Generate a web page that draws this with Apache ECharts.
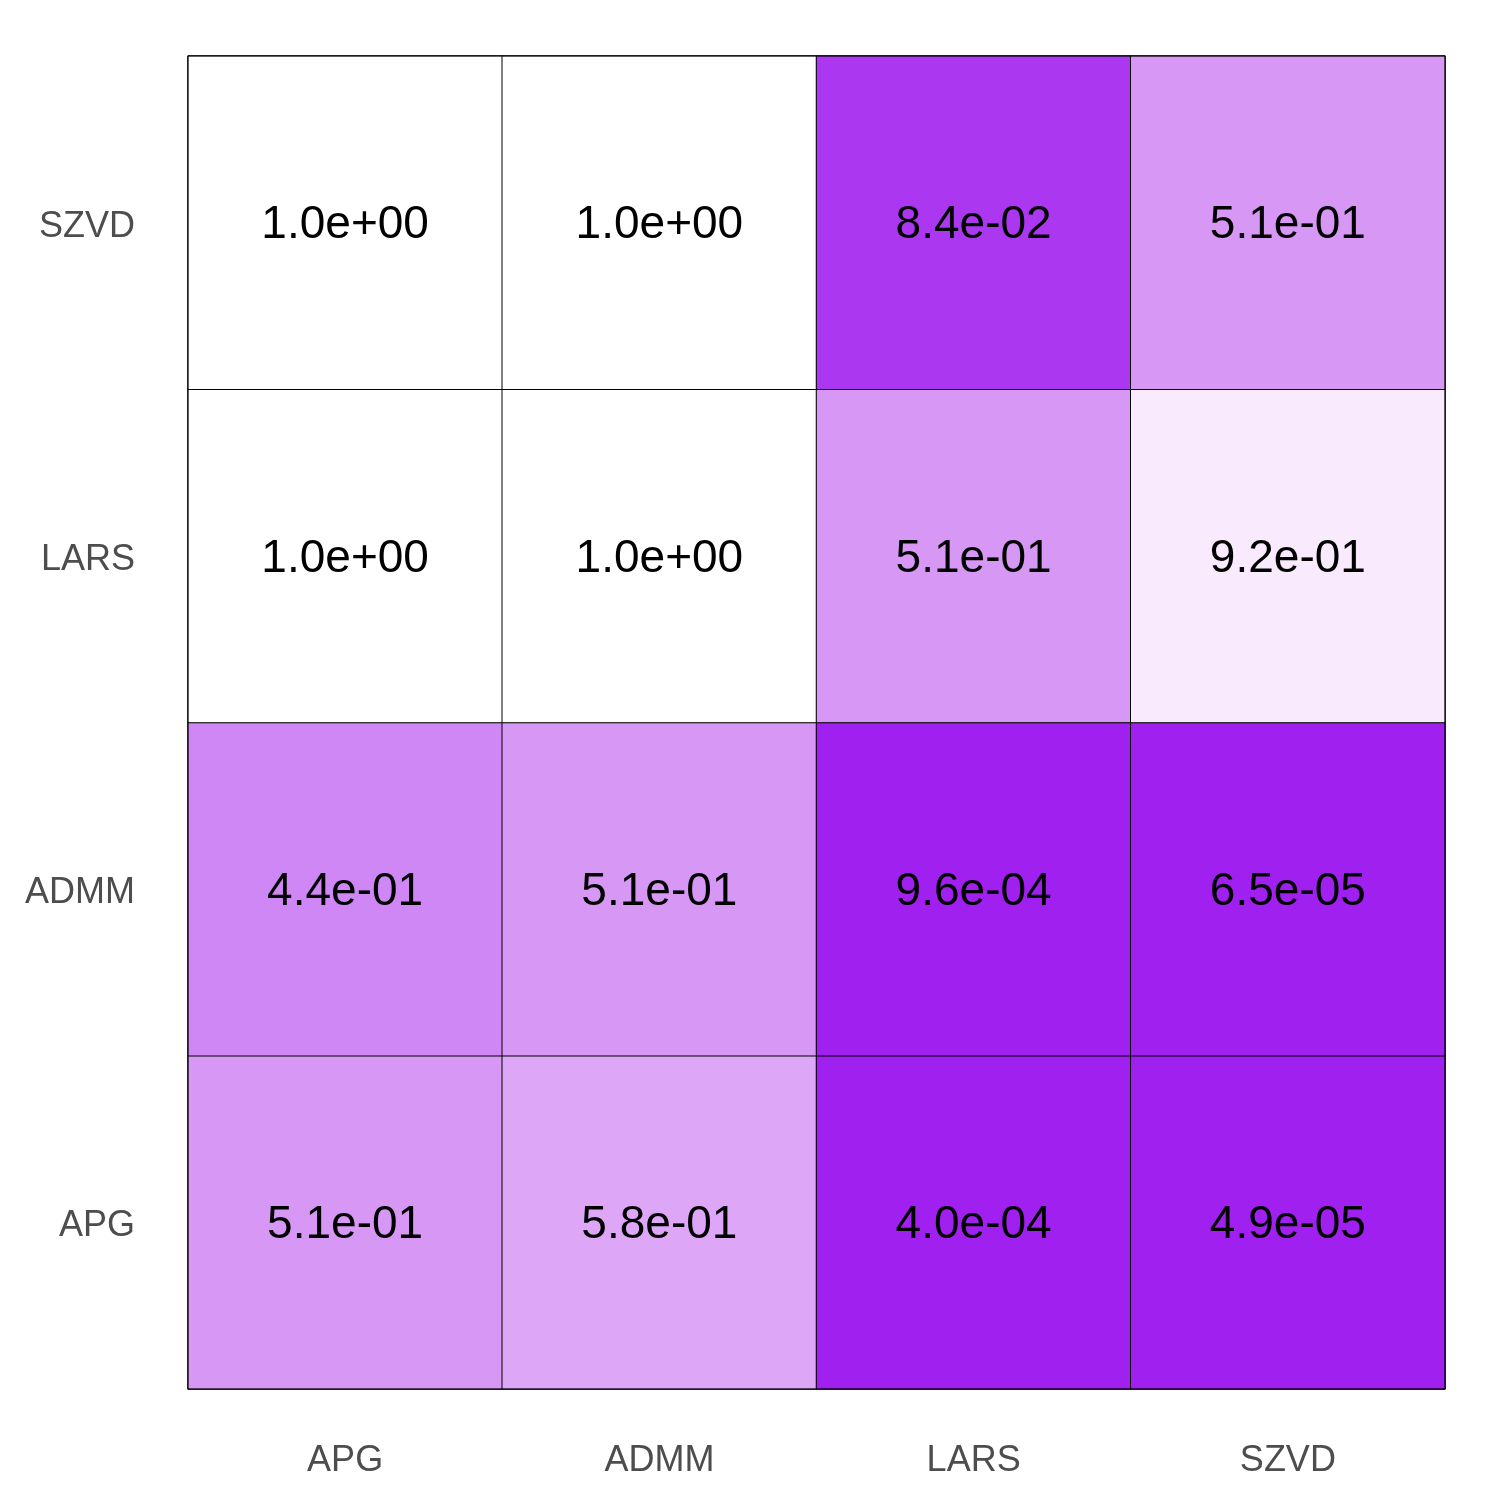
<!DOCTYPE html>
<html>
<head>
<meta charset="utf-8">
<script src="https://cdn.jsdelivr.net/npm/echarts@6/dist/echarts.min.js"></script>
<style>
html,body{margin:0;padding:0;background:#fff;}
#main{width:1500px;height:1500px;}
</style>
</head>
<body>
<div id="main"></div>
<script>
// methods on both axes (x left->right, y bottom->top)
var xMethods = ['APG', 'ADMM', 'LARS', 'SZVD'];
var yMethods = ['APG', 'ADMM', 'LARS', 'SZVD'];

// p-values, one row per y method
var rowAPG  = [5.1e-01, 5.8e-01, 4.0e-04, 4.9e-05];
var rowADMM = [4.4e-01, 5.1e-01, 9.6e-04, 6.5e-05];
var rowLARS = [1.0e+00, 1.0e+00, 5.1e-01, 9.2e-01];
var rowSZVD = [1.0e+00, 1.0e+00, 8.4e-02, 5.1e-01];
var rows = [rowAPG, rowADMM, rowLARS, rowSZVD];

var cells = [];
rows.forEach(function(r, yi) {
	r.forEach(function(v, xi) {
		cells.push([xi, yi, v]);
	});
});

// 1.0e+00 style, like R's format
function sci(v) {
	var s = v.toExponential(1);
	var parts = s.split('e');
	var sign = parts[1].charAt(0);
	var exp = parts[1].slice(1);
	if (exp.length < 2) exp = '0' + exp;
	return parts[0] + 'e' + sign + exp;
}

var chart = echarts.init(document.getElementById('main'));
chart.setOption({
	animation: false,
	backgroundColor: '#fff',
	grid: {left: 188, top: 56, width: 1257, height: 1333, show: true, borderColor: '#000', borderWidth: 1, z: 5},
	xAxis: {
		type: 'category',
		data: xMethods,
		axisLine: {show: false},
		axisTick: {show: false},
		splitLine: {show: false},
		axisLabel: {color: '#4D4D4D', fontSize: 36, fontFamily: 'Liberation Sans, Arial', margin: 54}
	},
	yAxis: {
		type: 'category',
		data: yMethods,
		axisLine: {show: false},
		axisTick: {show: false},
		splitLine: {show: false},
		axisLabel: {
			color: '#4D4D4D', fontSize: 36, fontFamily: 'Liberation Sans, Arial', margin: 53,
			formatter: function(v) { return '{a|' + v + '}'; },
			rich: {a: {color: '#4D4D4D', fontSize: 36, fontFamily: 'Liberation Sans, Arial', padding: [8, 0, 0, 0]}}
		}
	},
	visualMap: {
		show: false,
		type: 'continuous',
		min: 0,
		max: 1,
		dimension: 2,
		inRange: {
			color: ['#A020F0', '#AD3DF0', '#B653F1', '#BF68F2', '#C87DF3', '#D695F5',
				'#DFAAF7', '#E7BEF8', '#EFD2FA', '#F7E5FC', '#FFFFFF']
		}
	},
	series: [{
		type: 'heatmap',
		data: cells,
		itemStyle: {borderColor: '#000', borderWidth: 1},
		label: {
			show: true,
			color: '#000',
			fontSize: 46,
			fontFamily: 'Liberation Sans, Arial',
			offset: [0, 3],
			formatter: function(p) { return sci(p.value[2]); }
		},
		emphasis: {disabled: true}
	}]
});
</script>
</body>
</html>
